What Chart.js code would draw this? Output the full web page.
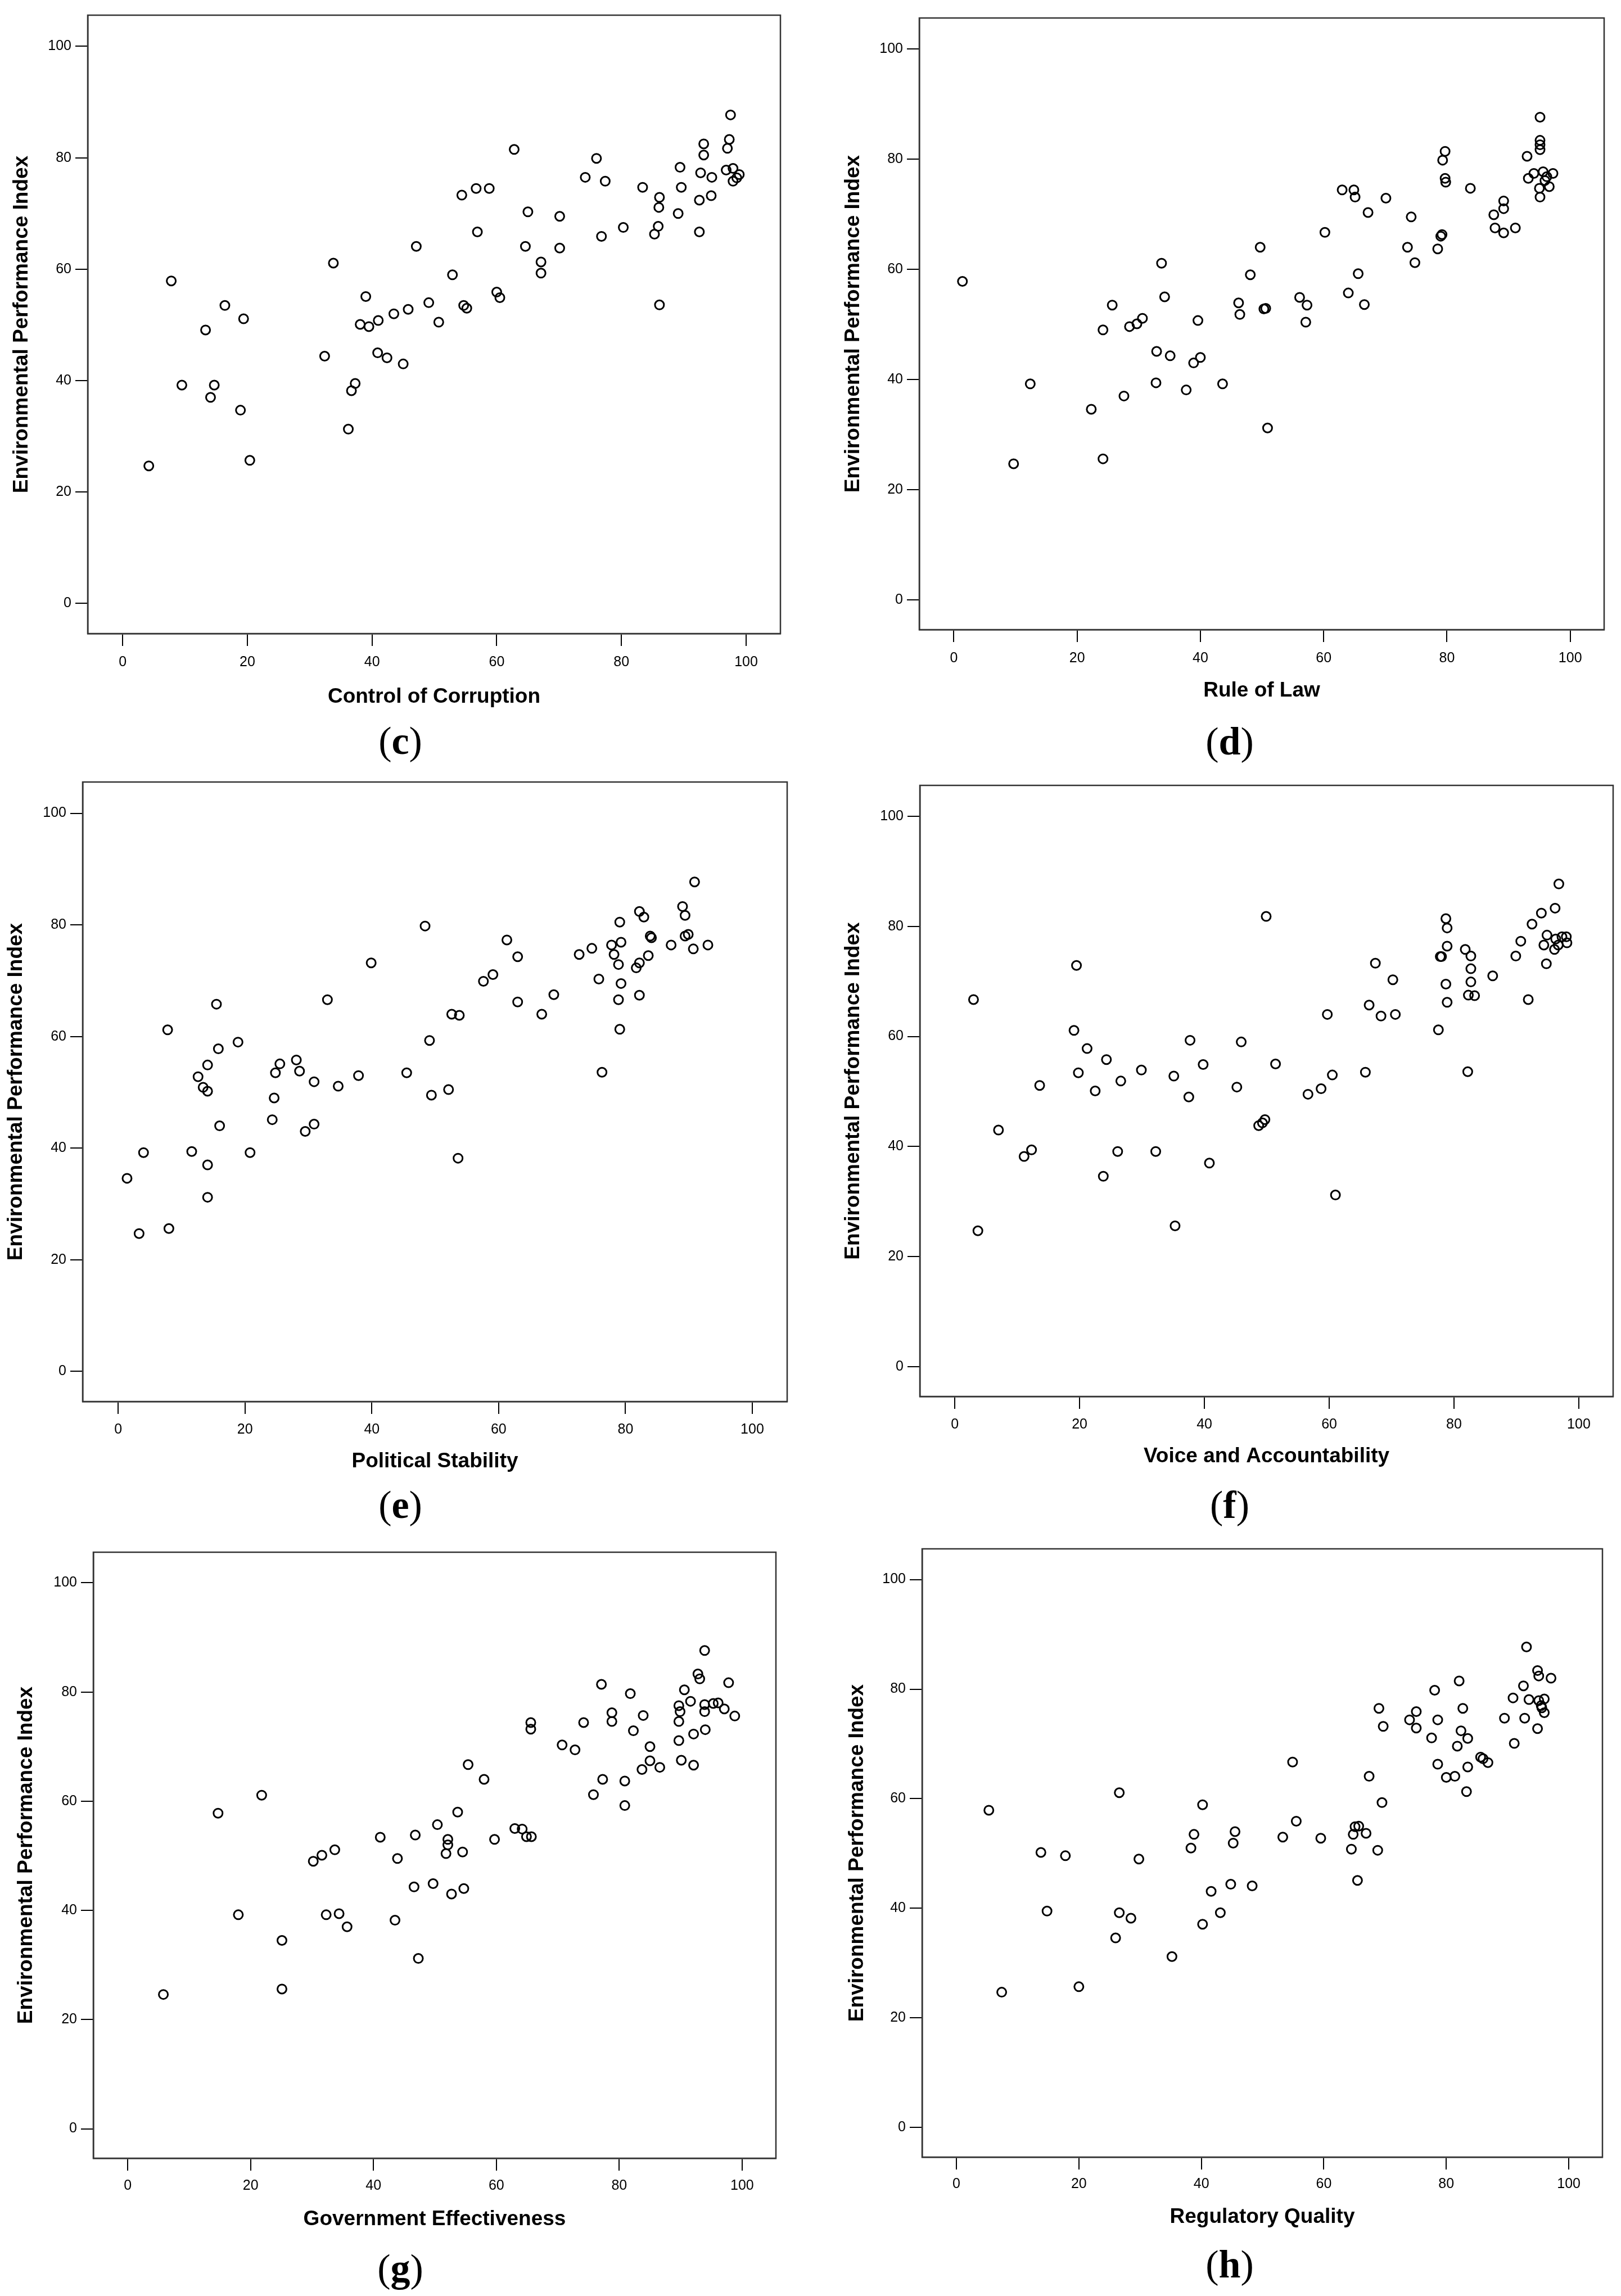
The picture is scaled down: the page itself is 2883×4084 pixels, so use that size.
<!DOCTYPE html>
<html><head><meta charset="utf-8">
<script src="https://cdn.jsdelivr.net/npm/chart.js@4.4.1/dist/chart.umd.min.js"></script>
<style>
html,body{margin:0;padding:0;background:#fff;}
body{width:2883px;height:4084px;position:relative;overflow:hidden;}
canvas{position:absolute;}
.lab{position:absolute;font-family:'Liberation Serif','Times New Roman',serif;font-size:70px;line-height:1;color:#000;transform:translate(-50%,-50%);white-space:nowrap;}
</style></head><body>
<script>
// ---------- data ----------
const tickValues = [0, 20, 40, 60, 80, 100];
const epiTitle = 'Environmental Performance Index';
const panelLetters = ['c', 'd', 'e', 'f', 'g', 'h'];
const indicatorNames = ['Control of Corruption', 'Rule of Law', 'Political Stability',
  'Voice and Accountability', 'Government Effectiveness', 'Regulatory Quality'];

const corruptionScore = [4.2,7.8,9.5,13.3,14.1,14.7,16.4,19.4,18.9,20.4,32.4,33.8,36.2,36.7,37.3,38.1,39.0,39.5,41.0,40.9,42.4,43.5,45.0,45.8,47.1,49.1,50.7,52.9,54.4,54.7,55.2,56.7,58.8,56.9,60.0,60.5,62.8,64.6,65.0,67.1,67.1,70.1,70.1,74.2,76.0,77.4,76.8,80.3,83.4,86.1,86.0,85.9,85.3,86.1,89.1,89.4,89.6,92.5,92.5,92.7,93.2,93.2,94.4,94.5,96.8,97.0,97.3,97.5,97.9,98.9,97.9,98.5];
const corruptionEPI = [24.7,57.9,39.2,49.1,37.0,39.2,53.5,51.1,34.7,25.7,44.4,61.1,31.3,38.2,39.5,50.1,55.1,49.7,50.8,45.0,44.1,52.0,43.0,52.8,64.1,54.0,50.5,59.0,73.3,53.5,53.0,74.5,74.5,66.7,55.9,54.9,81.5,64.1,70.3,61.3,59.3,69.5,63.8,76.5,79.9,75.8,65.9,67.5,74.7,72.9,71.1,67.7,66.3,53.6,70.0,78.3,74.7,72.4,66.7,77.3,82.5,80.5,73.2,76.5,77.8,81.7,83.3,87.7,78.1,77.0,75.8,76.4];

const lawScore = [1.4,9.7,12.4,22.3,24.2,24.2,25.7,27.6,28.5,29.7,30.6,32.8,32.9,33.7,34.2,35.1,37.7,38.9,40.0,39.6,43.6,46.2,46.4,48.1,49.7,50.3,50.6,50.9,56.1,57.3,57.1,60.2,63.0,64.9,65.1,64.0,65.6,66.6,67.2,70.1,73.6,74.2,74.8,78.5,79.0,79.2,79.3,79.7,79.7,79.8,83.8,87.6,87.8,89.2,89.2,89.2,91.1,93.0,93.2,94.1,95.1,95.1,95.1,95.1,95.0,95.1,95.6,95.9,96.6,97.2,96.2];
const lawEPI = [57.8,24.7,39.2,34.6,25.6,49.0,53.5,37.0,49.6,50.1,51.1,39.4,45.1,61.1,55.0,44.3,38.1,43.0,44.0,50.7,39.2,53.9,51.8,59.0,64.0,52.8,52.9,31.2,54.9,53.5,50.4,66.7,74.4,74.4,73.1,55.7,59.2,53.6,70.3,72.9,64.0,69.5,61.2,63.7,66.0,66.3,79.8,81.4,76.5,75.8,74.7,69.9,67.5,72.4,71.0,66.6,67.5,80.5,76.5,77.4,87.6,83.4,82.6,81.7,74.7,73.1,77.7,76.1,75.0,77.4,76.8];

const stabilityScore = [1.4,3.3,4.0,7.8,8.0,11.6,12.6,13.4,14.1,14.1,14.1,14.1,15.5,15.8,16.0,18.9,20.8,24.3,24.6,24.8,25.5,28.1,28.6,29.5,30.9,30.9,33.0,34.7,37.9,39.9,45.5,48.4,49.1,49.4,52.1,52.6,53.8,53.6,57.6,59.1,61.3,63.0,63.0,66.8,68.7,72.7,74.7,75.8,76.3,77.8,78.2,78.9,78.9,79.1,79.3,79.3,79.1,81.7,82.2,82.2,82.2,82.9,83.6,83.9,84.1,87.2,89.0,89.4,89.4,89.9,90.7,90.9,93.0];
const stabilityEPI = [34.6,24.7,39.2,61.2,25.6,39.4,52.8,50.9,50.2,54.9,37.0,31.2,65.8,57.8,44.0,59.0,39.2,45.1,49.0,53.5,55.1,55.8,53.8,43.0,44.3,51.9,66.6,51.1,53.0,73.2,53.5,79.8,59.3,49.5,50.5,64.0,63.8,38.2,69.9,71.1,77.3,74.3,66.2,64.0,67.5,74.7,75.8,70.3,53.6,76.4,74.7,72.9,66.6,80.5,76.9,69.5,61.3,72.3,73.2,67.4,82.4,81.4,74.5,78.0,77.7,76.4,83.3,81.7,78.0,78.3,75.7,87.7,76.4];

const voiceScore = [3.0,3.7,7.0,11.1,12.3,13.6,19.5,19.1,19.8,21.2,22.5,23.8,24.3,26.1,26.6,29.9,32.2,35.1,35.3,37.5,37.7,39.8,40.8,45.2,45.9,48.7,49.3,49.7,49.9,51.4,56.6,58.7,59.7,60.5,61.0,65.8,66.4,67.4,68.3,70.2,70.6,77.5,77.8,78.0,78.7,78.9,78.9,78.7,78.9,81.8,82.7,82.7,82.7,82.3,83.3,82.2,86.2,89.9,90.7,91.9,92.5,94.0,96.2,96.8,94.9,94.4,94.8,96.1,96.7,97.3,98.0,98.1,96.3];
const voiceEPI = [66.7,24.7,43.0,38.2,39.4,51.1,72.9,61.1,53.4,57.8,50.1,34.6,55.8,39.1,51.9,53.9,39.1,52.8,25.6,49.0,59.3,54.9,37.0,50.8,59.0,43.8,44.3,44.9,81.8,55.0,49.5,50.5,64.0,53.0,31.2,53.5,65.7,73.3,63.7,70.3,64.0,61.2,74.5,74.5,81.4,79.7,76.4,69.5,66.2,75.8,74.6,72.3,69.9,67.5,67.4,53.6,71.0,74.6,77.3,66.7,80.4,82.4,83.3,87.7,78.4,76.6,73.2,75.8,76.6,78.1,78.1,77.0,77.7];

const effectivenessScore = [5.8,14.7,18.0,21.8,25.1,25.1,30.2,31.6,32.3,33.7,34.4,35.7,41.1,43.5,43.9,46.6,46.8,47.3,49.7,50.4,52.1,52.1,51.8,52.7,54.5,54.7,53.7,55.4,58.0,59.7,63.0,64.2,64.9,65.7,65.6,65.6,70.7,72.8,74.2,75.8,77.1,77.3,78.8,78.8,80.9,80.9,81.8,82.3,83.7,83.9,85.0,85.0,86.6,89.7,89.9,89.7,89.7,90.1,90.6,91.6,92.1,92.1,92.8,93.1,93.9,93.9,93.9,94.0,95.3,96.1,97.1,97.8,98.8];
const effectivenessEPI = [24.6,57.8,39.2,61.1,34.5,25.6,49.0,50.1,39.2,51.1,39.4,37.0,53.4,38.2,49.5,44.3,53.8,31.2,44.9,55.7,53.0,52.0,50.4,43.0,50.7,44.0,58.0,66.7,64.0,53.0,55.0,54.9,53.5,53.5,74.4,73.2,70.3,69.4,74.4,61.2,81.4,64.0,76.2,74.6,63.7,59.2,79.7,72.9,65.8,75.7,67.4,70.0,66.2,77.5,76.4,74.6,71.1,67.5,80.4,78.3,72.3,66.6,83.3,82.4,87.6,77.7,76.4,73.1,77.9,78.0,76.9,81.7,75.6];

const regulatoryScore = [5.3,7.4,13.8,14.8,17.8,20.0,26.0,26.6,26.6,28.5,29.8,35.2,38.3,38.8,40.2,40.2,41.6,43.1,44.8,45.2,45.5,48.3,53.3,54.9,55.5,59.5,64.5,64.8,65.1,65.7,65.5,66.9,67.4,68.8,69.0,69.5,69.7,74.0,75.1,75.1,77.6,78.1,78.6,78.6,80.0,81.4,81.8,82.4,82.1,82.7,83.3,83.5,83.5,85.6,86.0,86.8,89.5,91.1,90.9,92.6,92.8,93.1,93.5,94.9,95.1,94.9,95.1,95.5,95.6,96.0,96.0,97.1];
const regulatoryEPI = [57.9,24.7,50.2,39.5,49.6,25.7,34.6,61.1,39.2,38.2,49.0,31.2,51.0,53.5,58.9,37.1,43.1,39.2,44.4,51.9,54.0,44.1,53.0,66.7,55.9,52.8,50.8,53.5,54.9,55.0,45.1,53.7,64.1,50.6,76.5,59.3,73.2,74.4,75.9,72.9,71.1,79.8,74.4,66.3,63.9,64.1,69.6,72.4,81.5,76.5,61.3,71.0,65.8,67.6,67.3,66.6,74.7,70.1,78.4,80.6,74.7,87.7,78.1,83.4,82.4,72.8,77.9,77.0,76.6,78.2,75.7,82.0];

const panelX = [corruptionScore, lawScore, stabilityScore, voiceScore, effectivenessScore, regulatoryScore];
const panelY = [corruptionEPI, lawEPI, stabilityEPI, voiceEPI, effectivenessEPI, regulatoryEPI];

// ---------- layout (page pixels) ----------
const layouts = [
  {box:[156,17,1388,1127],   cLeft:0,    yTitleX:39,   tickGap:51, xTitleY:1240, label:[712,1318]},
  {box:[1635,22,2853,1120],  cLeft:1445, yTitleX:1518, tickGap:51, xTitleY:1229, label:[2187,1319]},
  {box:[147,1381,1400,2493], cLeft:0,    yTitleX:29,   tickGap:50, xTitleY:2600, label:[712,2677]},
  {box:[1636,1387,2869,2484],cLeft:1445, yTitleX:1518, tickGap:50, xTitleY:2591, label:[2187,2677]},
  {box:[166,2751,1380,3839], cLeft:0,    yTitleX:47,   tickGap:49, xTitleY:3948, label:[712,4035]},
  {box:[1640,2745,2850,3837],cLeft:1445, yTitleX:1525, tickGap:48, xTitleY:3944, label:[2187,4028]}
];
const X_RANGE = [-5.6, 105.5];
const Y_RANGE = [-5.4, 105.6];
const SANS = "'Liberation Sans', Arial, Helvetica, sans-serif";
const PAD = 12;

const boxPlugin = {
  id: 'plotBox',
  afterDraw(chart) {
    const {ctx, chartArea: a} = chart;
    ctx.save();
    ctx.strokeStyle = '#333';
    ctx.lineWidth = 2.5;
    ctx.strokeRect(a.left, a.top, a.right - a.left, a.bottom - a.top);
    ctx.restore();
  }
};

const fixTicks = axis => { axis.ticks = tickValues.map(v => ({value: v})); };

layouts.forEach((L, i) => {
  const [bl, bt, br, bb] = L.box;
  const cTop = bt - PAD;
  const cBottom = Math.round(L.xTitleY + 26.2);
  const width = br + PAD - L.cLeft;
  const height = cBottom - cTop;
  const canvas = document.createElement('canvas');
  canvas.width = width; canvas.height = height;
  canvas.style.left = L.cLeft + 'px'; canvas.style.top = cTop + 'px';
  canvas.style.width = width + 'px'; canvas.style.height = height + 'px';
  document.body.appendChild(canvas);

  const yAxisW = bl - L.cLeft;
  const xAxisH = cBottom - bb;
  const points = panelX[i].map((v, k) => ({x: v, y: panelY[i][k]}));

  new Chart(canvas, {
    type: 'scatter',
    data: { datasets: [{
      data: points,
      pointStyle: 'circle',
      pointRadius: 8,
      pointHoverRadius: 8,
      pointBorderWidth: 3,
      borderColor: '#000',
      backgroundColor: 'rgba(0,0,0,0)'
    }]},
    options: {
      responsive: false,
      animation: false,
      devicePixelRatio: 1,
      layout: { padding: {top: PAD, right: PAD, left: 0, bottom: 0} },
      plugins: { legend: {display: false}, tooltip: {enabled: false} },
      scales: {
        x: {
          type: 'linear', position: 'bottom', bounds: 'data',
          min: X_RANGE[0], max: X_RANGE[1],
          afterBuildTicks: fixTicks,
          afterFit: s => { s.height = xAxisH; },
          ticks: { autoSkip: false, maxRotation: 0, color: '#000', padding: L.tickGap - 37,
                   font: {family: SANS, size: 25} },
          grid: { display: true, drawOnChartArea: false, drawTicks: true, tickLength: 22,
                  color: '#000', lineWidth: 2 },
          border: { display: true, color: '#333', width: 2.5 },
          title: { display: true, text: indicatorNames[i], color: '#000',
                   font: {family: SANS, size: 37, weight: 'bold'}, padding: {top: 0, bottom: 4} }
        },
        y: {
          type: 'linear', position: 'left', bounds: 'data',
          min: Y_RANGE[0], max: Y_RANGE[1],
          afterBuildTicks: fixTicks,
          afterFit: s => { s.width = yAxisW; },
          ticks: { autoSkip: false, color: '#000', padding: 7,
                   font: {family: SANS, size: 25} },
          grid: { display: true, drawOnChartArea: false, drawTicks: true, tickLength: 22,
                  color: '#000', lineWidth: 2 },
          border: { display: true, color: '#333', width: 2.5 },
          title: { display: true, text: epiTitle, color: '#000',
                   font: {family: SANS, size: 37, weight: 'bold'},
                   padding: {top: L.yTitleX - L.cLeft - 22.2, bottom: 0} }
        }
      }
    },
    plugins: [boxPlugin]
  });

  const lab = document.createElement('div');
  lab.className = 'lab';
  lab.style.left = L.label[0] + 'px';
  lab.style.top = L.label[1] + 'px';
  lab.innerHTML = '(<b>' + panelLetters[i] + '</b>)';
  document.body.appendChild(lab);
});
</script>
</body></html>
